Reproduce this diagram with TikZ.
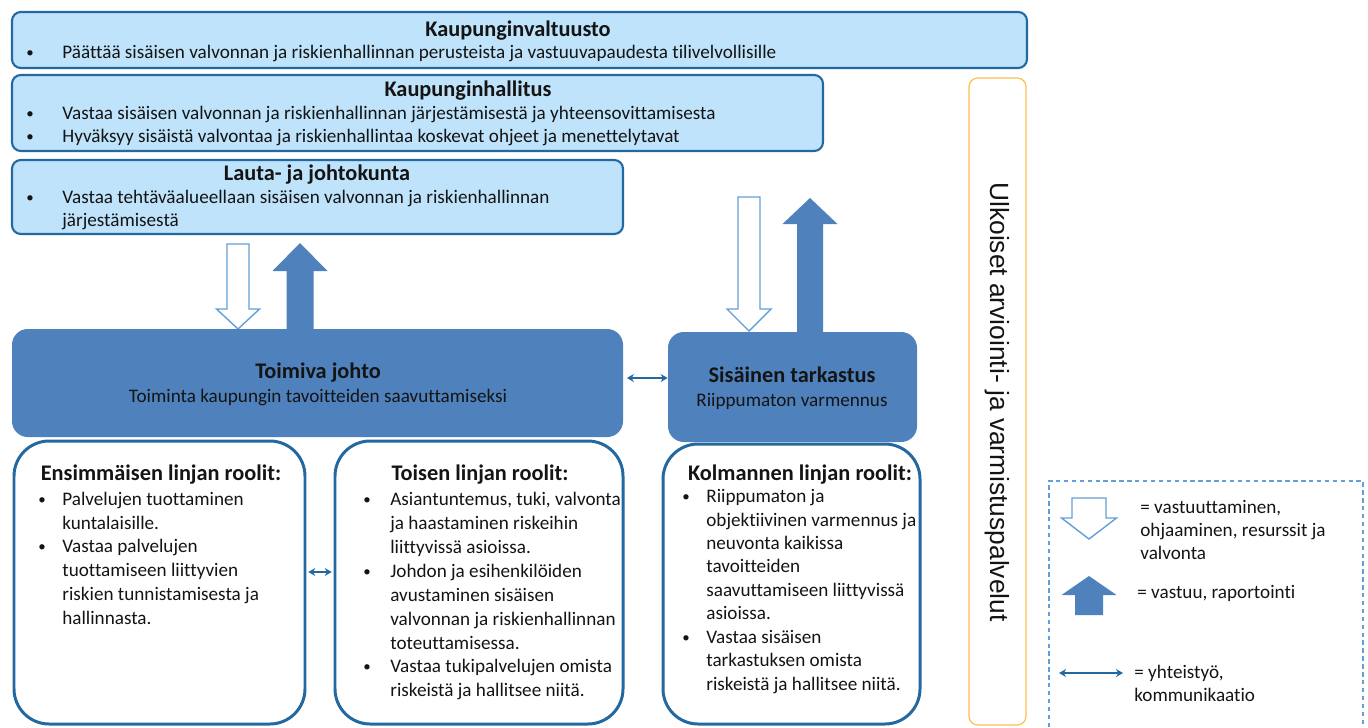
\documentclass[tikz,border=0pt]{standalone}
\usepackage{fontspec}
\setmainfont{Carlito}[Ligatures=NoCommon]
\newfontfamily\ulkofont{Liberation Sans}
\usetikzlibrary{fit,arrows.meta}

\definecolor{vaalea}{RGB}{190,227,251}
\definecolor{reuna}{RGB}{36,104,160}
\definecolor{keski}{RGB}{79,129,189}
\definecolor{ohut}{RGB}{100,160,215}
\definecolor{oranssi}{RGB}{255,190,80}
\definecolor{teksti}{RGB}{20,20,20}

\tikzset{
  ylabox/.style={draw=reuna, fill=vaalea, line width=1.2pt, rounded corners=5pt, inner sep=0pt},
  johtobox/.style={fill=keski, rounded corners=9pt, inner sep=0pt},
  roolibox/.style={draw=reuna, fill=white, line width=1.7pt, rounded corners=20pt, inner sep=0pt},
  otsikko/.style={font=\bfseries\fontsize{12.7}{15}\selectfont, text=teksti, inner sep=0pt, anchor=base},
  % multi-line nodes: y is the baseline of the last line
  rivi/.style={font=\fontsize{10.9}{13}\selectfont, text=teksti, inner sep=0pt, anchor=base west, align=left},
  roolirivi/.style={font=\fontsize{10.9}{13.6}\selectfont, text=teksti, inner sep=0pt, anchor=base west, align=left},
  pallo/.style={font=\fontsize{8.5}{10}\selectfont, text=teksti, inner sep=0pt, anchor=base},
  yhteys/.style={draw=reuna, line width=0.9pt, {Stealth[length=4pt,width=4.5pt]}-{Stealth[length=4pt,width=4.5pt]}},
  tyhja/.style={draw=ohut, fill=white, line width=0.8pt},
  tays/.style={fill=keski},
}

% hollow down arrow: x, top, head base, tip, shaft half, head half
\newcommand{\alasnuoli}[6]{%
  \draw[tyhja] (#1-#5,#2) -- (#1+#5,#2) -- (#1+#5,#3) -- (#1+#6,#3) -- (#1,#4)
    -- (#1-#6,#3) -- (#1-#5,#3) -- cycle;}
% filled up arrow: x, bottom, head base, tip, shaft half, head half
\newcommand{\ylosnuoli}[6]{%
  \fill[tays] (#1-#5,#2) -- (#1-#5,#3) -- (#1-#6,#3) -- (#1,#4)
    -- (#1+#6,#3) -- (#1+#5,#3) -- (#1+#5,#2) -- cycle;}

\begin{document}
\begin{tikzpicture}[x=0.02cm, y=-0.02cm]
    \useasboundingbox (0,0) rectangle (1368,727);

    % Kaupunginvaltuusto
    \node[ylabox, fit={(12,12) (1027,68)}] (valtuusto) {};
    \node[otsikko] at (518,36) {Kaupunginvaltuusto};
    \node[pallo] at (30,57) {\textbullet};
    \node[rivi] at (62,58) {Päättää sisäisen valvonnan ja riskienhallinnan perusteista ja vastuuvapaudesta tilivelvollisille};

    % Kaupunginhallitus
    \node[ylabox, fit={(12,75) (823,151)}] (hallitus) {};
    \node[otsikko] at (468,96) {Kaupunginhallitus};
    \node[pallo] at (30,118) {\textbullet};
    \node[rivi] at (62,119) {Vastaa sisäisen valvonnan ja riskienhallinnan järjestämisestä ja yhteensovittamisesta};
    \node[pallo] at (30,141) {\textbullet};
    \node[rivi] at (62,142) {Hyväksyy sisäistä valvontaa ja riskienhallintaa koskevat ohjeet ja menettelytavat};

    % Lauta- ja johtokunta
    \node[ylabox, fit={(12,160) (623,234)}] (lauta) {};
    \node[otsikko] at (317,180) {Lauta- ja johtokunta};
    \node[pallo] at (30,202) {\textbullet};
    \node[rivi] at (62,226) {Vastaa tehtäväalueellaan sisäisen valvonnan ja riskienhallinnan\\järjestämisestä};

    % ulkoiset palvelut
    \node[draw=oranssi, line width=0.7pt, rounded corners=5pt, inner sep=0pt, fit={(969,78) (1026,725)}] (ulkoiset) {};
    \node[rotate=-90, font=\ulkofont\fontsize{15}{17}\selectfont, text=teksti] at (997,402) {Ulkoiset arviointi- ja varmistuspalvelut};

    % nuolet
    \alasnuoli{238}{244}{309}{329}{11}{21.5}
    \ylosnuoli{300}{330}{271}{243}{13.5}{27.5}
    \alasnuoli{749}{197}{309}{331}{11}{22}
    \ylosnuoli{810}{333}{224}{198}{13}{27.5}

    % Toimiva johto
    \node[johtobox, fit={(12,329) (623,437)}] (johto) {};
    \node[otsikko] at (318,378) {Toimiva johto};
    \node[rivi, anchor=base] at (318,402) {Toiminta kaupungin tavoitteiden saavuttamiseksi};

    % Sisäinen tarkastus
    \node[johtobox, fit={(668,332) (917,442)}] (tarkastus) {};
    \node[otsikko] at (792,382) {Sisäinen tarkastus};
    \node[rivi, anchor=base] at (792,406) {Riippumaton varmennus};

    \draw[yhteys, shorten <=2pt] (johto.east |- 0,378) -- (tarkastus.west |- 0,378);

    % roolit
    \node[roolibox, fit={(14,441) (305,724)}] (ensim) {};
    \node[otsikko] at (161,480) {Ensimmäisen linjan roolit:};
    \node[pallo] at (42,504) {\textbullet};
    \node[roolirivi] at (62,529) {Palvelujen tuottaminen\\kuntalaisille.};
    \node[pallo] at (42,551) {\textbullet};
    \node[roolirivi] at (62,624) {Vastaa palvelujen\\tuottamiseen liittyvien\\riskien tunnistamisesta ja\\hallinnasta.};

    \node[roolibox, fit={(335,441) (623,724)}] (toinen) {};
    \node[otsikko] at (480,480) {Toisen linjan roolit:};
    \node[pallo] at (367,504) {\textbullet};
    \node[roolirivi] at (390,553) {Asiantuntemus, tuki, valvonta\\ja haastaminen riskeihin\\liittyvissä asioissa.};
    \node[pallo] at (367,576) {\textbullet};
    \node[roolirivi] at (390,649) {Johdon ja esihenkilöiden\\avustaminen sisäisen\\valvonnan ja riskienhallinnan\\toteuttamisessa.};
    \node[pallo] at (367,671) {\textbullet};
    \node[roolirivi] at (390,696) {Vastaa tukipalvelujen omista\\riskeistä ja hallitsee niitä.};

    \draw[yhteys, shorten <=1pt, shorten >=1pt] (ensim.east |- 0,572) -- (toinen.west |- 0,572);

    \node[roolibox, fit={(663,444) (920,724)}] (kolmas) {};
    \node[otsikko] at (800,480) {Kolmannen linjan roolit:};
    \node[pallo] at (686,501) {\textbullet};
    \node[roolirivi, font=\fontsize{10.9}{13.3}\selectfont] at (706,619.5) {Riippumaton ja\\objektiivinen varmennus ja\\neuvonta kaikissa\\tavoitteiden\\saavuttamiseen liittyvissä\\asioissa.};
    \node[pallo] at (686,642) {\textbullet};
    \node[roolirivi, font=\fontsize{10.9}{13.3}\selectfont] at (706,690) {Vastaa sisäisen\\tarkastuksen omista\\riskeistä ja hallitsee niitä.};

    % selitteet
    \draw[ohut, dashed, dash pattern=on 2.5pt off 2pt, line width=0.8pt] (1049,727) -- (1049,481) -- (1363,481) -- (1363,727);
    \alasnuoli{1089}{498}{518}{539}{17}{27.5}
    \node[rivi] at (1140,559) {= vastuuttaminen,\\ohjaaminen, resurssit ja\\valvonta};
    \ylosnuoli{1089}{615}{595}{576}{14}{27.5}
    \node[rivi] at (1137,598) {= vastuu, raportointi};
    \coordinate (selvasen) at (1059,673);
    \coordinate (seloikea) at (1123,673);
    \draw[yhteys] (selvasen) -- (seloikea);
    \node[rivi] at (1134,701) {= yhteistyö,\\kommunikaatio};

\end{tikzpicture}
\end{document}
